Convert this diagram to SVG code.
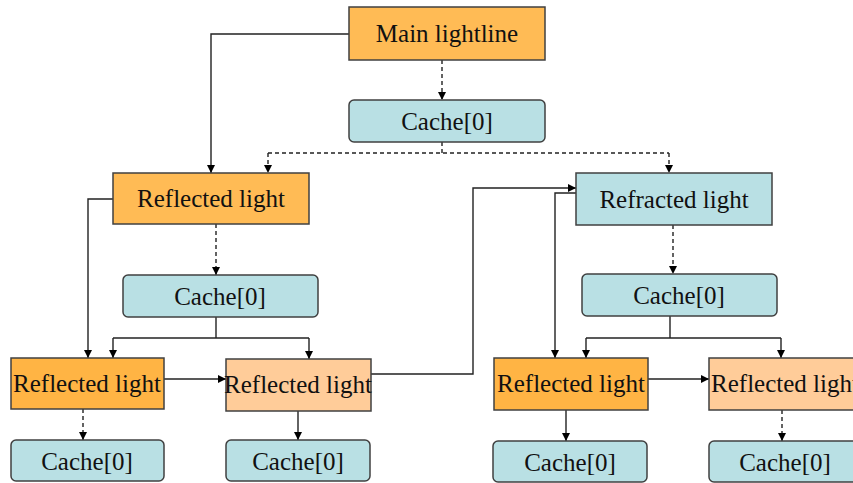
<svg xmlns="http://www.w3.org/2000/svg" width="853" height="483" viewBox="0 0 853 483">
<defs>
<marker id="ah" viewBox="0 0 10 10" refX="10" refY="5" markerWidth="8" markerHeight="8" markerUnits="userSpaceOnUse" orient="auto">
<path d="M0,0 L10,5 L0,10 z" fill="#000"/>
</marker>
<style>
.box{stroke:#404040;stroke-width:1.5}
.org{fill:#FFBB55}
.org2{fill:#FFB444}
.peach{fill:#FFCC99}
.blue{fill:#B9E0E4}
.t{font-family:"Liberation Serif","Times New Roman",serif;font-size:25px;fill:#111;text-anchor:middle}
.c{fill:none;stroke:#222;stroke-width:1.4}
.d{stroke-dasharray:4,3}
.a{marker-end:url(#ah)}
</style>
</defs>
<rect width="853" height="483" fill="#fff"/>
<g id="connectors">
<polyline class="c a" points="349,34 211,34 211,173"/>
<line class="c d a" x1="442" y1="60" x2="442" y2="100"/>
<line class="c d" x1="442" y1="142" x2="442" y2="153"/>
<line class="c d" x1="268" y1="153" x2="669" y2="153"/>
<line class="c d a" x1="268" y1="153" x2="268" y2="173"/>
<line class="c d a" x1="669" y1="153" x2="669" y2="173"/>
<polyline class="c a" points="113,199 88,199 88,358"/>
<line class="c d a" x1="216" y1="224" x2="216" y2="275"/>
<line class="c" x1="216" y1="317" x2="216" y2="338"/>
<line class="c" x1="113" y1="338" x2="309" y2="338"/>
<line class="c a" x1="113" y1="338" x2="113" y2="358"/>
<line class="c a" x1="309" y1="338" x2="309" y2="359"/>
<line class="c a" x1="164" y1="379" x2="226" y2="379"/>
<polyline class="c a" points="371,374 473,374 473,188 576,188"/>
<polyline class="c a" points="576,193 555,193 555,358"/>
<line class="c d a" x1="673" y1="225" x2="673" y2="274"/>
<line class="c" x1="670" y1="316" x2="670" y2="338"/>
<line class="c" x1="586" y1="338" x2="781" y2="338"/>
<line class="c a" x1="586" y1="338" x2="586" y2="358"/>
<line class="c a" x1="781" y1="338" x2="781" y2="358"/>
<line class="c a" x1="648" y1="379" x2="709" y2="379"/>
<line class="c d a" x1="83" y1="409" x2="83" y2="440"/>
<line class="c a" x1="298" y1="411" x2="298" y2="440"/>
<line class="c a" x1="566" y1="410" x2="566" y2="441"/>
<line class="c d a" x1="782" y1="410" x2="782" y2="441"/>
</g>
<g id="main">
<rect class="box org" x="349" y="7" width="196" height="53"/>
<text class="t" x="447" y="42">Main lightline</text>
</g>
<g id="cache0">
<rect class="box blue" x="349" y="100" width="196" height="42" rx="5"/>
<text class="t" x="447" y="130">Cache[0]</text>
</g>
<g id="reflected1">
<rect class="box org" x="113" y="173" width="196" height="51"/>
<text class="t" x="211" y="207">Reflected light</text>
</g>
<g id="refracted">
<rect class="box blue" x="576" y="173" width="196" height="52"/>
<text class="t" x="674" y="208">Refracted light</text>
</g>
<g id="cache1">
<rect class="box blue" x="123" y="275" width="195" height="42" rx="5"/>
<text class="t" x="220" y="305">Cache[0]</text>
</g>
<g id="cache2">
<rect class="box blue" x="582" y="274" width="195" height="42" rx="5"/>
<text class="t" x="679" y="304">Cache[0]</text>
</g>
<g id="reflected2a">
<rect class="box org2" x="11" y="358" width="153" height="51"/>
<text class="t" x="87" y="392">Reflected light</text>
</g>
<g id="reflected2b">
<rect class="box peach" x="226" y="359" width="145" height="52"/>
<text class="t" x="298" y="393">Reflected light</text>
</g>
<g id="reflected2c">
<rect class="box org2" x="494" y="358" width="154" height="52"/>
<text class="t" x="571" y="392">Reflected light</text>
</g>
<g id="reflected2d">
<rect class="box peach" x="709" y="358" width="152" height="52"/>
<text class="t" x="785" y="392">Reflected light</text>
</g>
<g id="cache3a">
<rect class="box blue" x="11" y="440" width="153" height="41" rx="5"/>
<text class="t" x="87" y="470">Cache[0]</text>
</g>
<g id="cache3b">
<rect class="box blue" x="226" y="440" width="144" height="41" rx="5"/>
<text class="t" x="298" y="470">Cache[0]</text>
</g>
<g id="cache3c">
<rect class="box blue" x="493" y="441" width="154" height="41" rx="5"/>
<text class="t" x="570" y="471">Cache[0]</text>
</g>
<g id="cache3d">
<rect class="box blue" x="709" y="441" width="152" height="41" rx="5"/>
<text class="t" x="785" y="471">Cache[0]</text>
</g>
</svg>
